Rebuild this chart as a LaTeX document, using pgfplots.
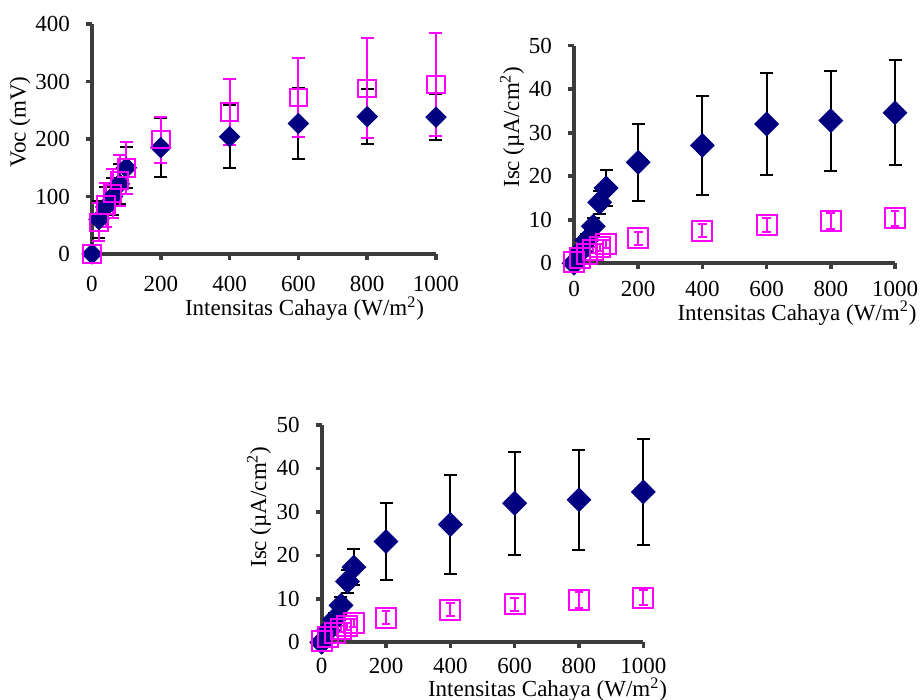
\documentclass[border=0pt]{standalone}
\usepackage{fontspec}
\setmainfont{Liberation Serif}
\usepackage{pgfplots}
\pgfplotsset{compat=1.18}
\usepackage{pgfplotstable}

\definecolor{navy}{RGB}{0,0,128}
\definecolor{mag}{RGB}{255,0,255}
\definecolor{axgray}{RGB}{60,60,60}

% Voc (mV)
\pgfplotstableread{
x    y    e
0    0    0
20   60   33
40   82   35
60   100  32
80   122  35
100  150  36
200  185  51
400  204  55
600  227  62
800  239  48
1000 238  40
}\vocA
\pgfplotstableread{
x    y    e
0    0    0
20   55   33
40   85   38
60   105  42
80   128  45
100  150  45
200  199  40
400  247  57
600  272  69
800  288  87
1000 295  89
}\vocB
% Isc (uA/cm2)
\pgfplotstableread{
x    y     e
0    0     0
20   2.7   1.0
40   5.3   1.5
60   8.5   2.0
80   14.0  2.7
100  17.3  4.2
200  23.2  8.8
400  27.1  11.4
600  32.0  11.8
800  32.8  11.5
1000 34.6  12.1
}\iscA
\pgfplotstableread{
x    y     e
0    0.3   0.3
20   1.3   0.5
40   2.2   0.6
60   3.0   0.7
80   3.7   0.8
100  4.4   0.9
200  5.7   1.5
400  7.5   1.5
600  8.8   1.5
800  9.7   1.8
1000 10.3  1.8
}\iscB

\pgfplotsset{
  panel/.style={
    scale only axis, axis lines=left,
    axis line style={-, draw=axgray, line width=1.8pt},
    tick style={draw=axgray, line width=1.8pt},
    major tick length=3pt, tick align=outside,
    xmin=0, xmax=1000, xtick={0,200,...,1000},
    ymin=0,
    ticklabel style={font=\fontsize{11.5}{13}\selectfont},
    yticklabel style={xshift=-4.5pt},
    /pgf/number format/assume math mode=true,
    /pgf/number format/1000 sep={},
    clip=false,
  },
  diam/.style={only marks, mark=square*, mark size=#1,
    mark options={rotate=45, fill=navy, draw=navy},
    error bars/.cd, y dir=both, y explicit,
    error bar style={black, line width=1pt},
    error mark options={rotate=90, mark size=3.25pt, line width=1pt, black}},
  sq/.style 2 args={only marks, mark=square, mark size=#1,
    mark options={draw=mag, line width=1pt},
    error bars/.cd, y dir=both, y explicit,
    error bar style={mag, line width=1pt},
    error mark options={rotate=90, mark size=#2, line width=1pt, mag}},
}

\begin{document}
\begin{tikzpicture}
\path[use as bounding box] (0,0) rectangle (461pt,350pt);

% top left: Voc
\begin{axis}[panel, at={(46pt,223pt)}, anchor=south west,
  width=172pt, height=115pt, ymax=400, ytick={0,100,...,400},
  xticklabel style={yshift=-4.5pt}]
  \addplot[diam=3.6pt] table[x=x, y=y, y error=e] {\vocA};
  \addplot[sq={4.4pt}{3.25pt}] table[x=x, y=y, y error=e] {\vocB};
\end{axis}

% top right: Isc
\begin{axis}[panel, at={(287pt,218.35pt)}, anchor=south west,
  width=160.5pt, height=108.8pt, ymax=50, ytick={0,10,...,50},
  xticklabel style={yshift=-2.5pt}]
  \addplot[diam=4.2pt] table[x=x, y=y, y error=e] {\iscA};
  \addplot[sq={5pt}{2.2pt}] table[x=x, y=y, y error=e] {\iscB};
\end{axis}

% bottom: Isc
\begin{axis}[panel, at={(160.85pt,28.85pt)}, anchor=south west,
  width=160.8pt, height=108.65pt, ymax=50, ytick={0,10,...,50},
  xticklabel style={yshift=-1.3pt}]
  \addplot[diam=4.2pt] table[x=x, y=y, y error=e] {\iscA};
  \addplot[sq={5pt}{2.2pt}] table[x=x, y=y, y error=e] {\iscB};
\end{axis}

\begin{scope}[every node/.style={font=\fontsize{11.5}{13}\selectfont, inner sep=0pt}]
\node[rotate=90] at (10pt,289pt) {Voc (mV)};
\node[anchor=base] at (152.25pt,192pt) {Intensitas Cahaya (W/m\textsuperscript{2})};
\node[rotate=90] at (256pt,286.5pt) {Isc (µA/cm\textsuperscript{2})};
\node[anchor=base] at (398.5pt,189.8pt) {Intensitas Cahaya (W/m\textsuperscript{2})};
\node[rotate=90] at (129.5pt,96.5pt) {Isc (µA/cm\textsuperscript{2})};
\node[anchor=base] at (273.75pt,1.5pt) {Intensitas Cahaya (W/m\textsuperscript{2})};
\end{scope}
\end{tikzpicture}
\end{document}
